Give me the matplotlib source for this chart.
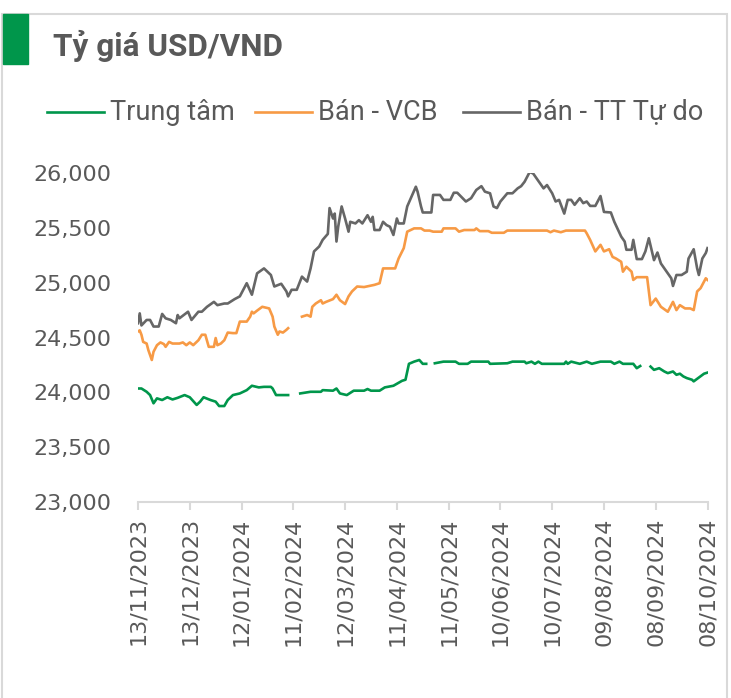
import numpy as np
import pandas as pd
import matplotlib
matplotlib.use("Agg")
import matplotlib.pyplot as plt
import matplotlib.dates as mdates
import matplotlib.patches as patches
from matplotlib.lines import Line2D
from matplotlib.ticker import FuncFormatter

plt.rcParams['font.family'] = ['DejaVu Sans']

# ── data: days since 13/11/2023 and rates (VND per USD) ──────────────────────
start = pd.Timestamp('2023-11-13')
nan = np.nan

tt_day = [0, 2, 5, 7, 9, 11, 14, 17, 20, 23, 27, 30, 34, 36, 38, 42, 45, 47, 50, 52,
          55, 59, 63, 66, 70, 73, 77, 78, 80, 87, 90, 94, 100, 106, 107, 113, 115, 117, 121, 125,
          131, 133, 135, 140, 143, 148, 153, 155, 157, 160, 163, 165, 167, 169, 172, 177, 184, 186, 191, 193,
          203, 204, 214, 217, 224, 225, 228, 230, 232, 234, 247, 248, 249, 251, 256, 260, 263, 268, 274, 276,
          279, 281, 287, 289, 291, 294, 297, 299, 302, 305, 307, 310, 312, 314, 316, 318, 321, 322, 325, 328, 330]
tt_val = [24035, 24035, 24005, 23975, 23900, 23945, 23930, 23955, 23935, 23950,
          23975, 23955, 23885, 23915, 23955, 23930, 23915, 23875, 23875, 23930,
          23975, 23990, 24020, 24060, 24045, 24050, 24050, 24035, 23975, 23975, nan,
          23990, 24005, 24005, 24020, 24015, 24035, 23990, 23975, 24015, 24015,
          24030, 24015, 24015, 24045, 24060, 24105, 24115, 24260, 24280, 24295,
          24260, 24260, nan,
          24265, 24280, 24280, 24260, 24260, 24280, 24280, 24260, 24265, 24280,
          24280, 24265, 24280, 24260, 24280, 24260, 24260, 24280, 24260, 24280,
          24260, 24280, 24260, 24280, 24280, 24260, 24280, 24260, 24260, 24220,
          24240, nan,
          24235, 24205, 24220, 24190, 24175, 24190, 24160, 24170, 24145, 24130,
          24115, 24100, 24135, 24170, 24180]

vcb_day = [0, 1, 2, 3, 5, 6, 8, 9, 11, 13, 15, 16, 18, 20, 24, 26, 28, 30, 32, 35,
           37, 39, 41, 44, 45, 46, 48, 50, 52, 55, 57, 59, 63, 65, 66, 67, 69, 72, 76, 78,
           79, 81, 82, 84, 86, 87, 91, 95, 98, 100, 101, 103, 106, 107, 109, 113, 115,
           117, 120, 122, 124, 127, 131, 137, 140, 142, 149, 151, 154, 156, 160, 164, 166, 169, 171, 176, 177,
           184, 186, 189, 195, 196, 198, 203, 205, 212, 214, 237, 239, 241, 245, 248, 259, 260, 262, 265, 268,
           270, 273, 275, 277, 280, 281, 283, 286, 287, 289, 295, 297, 300, 303, 307, 310, 312, 314, 317, 320,
           322, 324, 326, 329, 330]
vcb_val = [24555, 24565, 24525, 24460, 24445, 24385, 24295, 24370, 24430, 24455,
           24440, 24415, 24460, 24445, 24445, 24455, 24430, 24455, 24430, 24475,
           24525, 24525, 24415, 24415, 24495, 24430, 24445, 24475, 24545, 24540,
           24540, 24645, 24645, 24690, 24735, 24720, 24745, 24780, 24765, 24690,
           24600, 24525, 24555, 24545, 24570, 24585, nan,
           24690, 24705, 24690, 24780, 24810, 24840, 24810, 24825, 24850, 24890,
           24840, 24805, 24875, 24920, 24965, 24960, 24980, 24995, 25130, 25130,
           25220, 25315, 25465, 25495, 25495, 25475, 25475, 25465, 25465, 25495,
           25495, 25465, 25480, 25480, 25495, 25470, 25470, 25455, 25455, 25475,
           25475, 25460, 25475, 25460, 25475, 25475, 25450, 25390, 25285, 25345,
           25285, 25305, 25235, 25220, 25190, 25100, 25145, 25100, 25025, 25050,
           25050, 24795, 24855, 24780, 24735, 24825, 24750, 24795, 24765, 24765,
           24750, 24920, 24950, 25040, 25025]

free_day = [0, 1, 2, 5, 7, 9, 12, 14, 16, 19, 22, 23, 24, 29, 31, 35, 37, 40, 44, 46,
            50, 52, 56, 59, 63, 66, 69, 73, 77, 79, 83, 86, 87, 89, 92, 95, 98, 100, 102, 105,
            107, 110, 111, 113, 114, 115, 116, 118, 120, 122, 123, 126, 128, 130, 133, 135, 136, 137, 140, 142,
            144, 146, 148, 150, 151, 154, 156, 161, 162, 164, 165, 170, 171, 175, 177, 181, 183, 185, 190, 193,
            196, 199, 201, 204, 206, 208, 210, 214, 217, 219, 220, 222, 224, 227, 229, 231, 235, 237, 240, 242,
            244, 247, 249, 251, 253, 256, 258, 260, 262, 265, 268, 270, 274, 276, 280, 282, 283, 286, 287, 289,
            292, 294, 296, 299, 301, 303, 307, 309, 310, 312, 315, 318, 319, 322, 324, 325, 327, 329, 330]
free_val = [24630, 24720, 24610, 24660, 24660, 24600, 24600, 24715, 24675, 24660,
            24630, 24705, 24675, 24735, 24660, 24735, 24735, 24780, 24825, 24795,
            24810, 24810, 24850, 24875, 24995, 24890, 25085, 25130, 25070, 24965,
            24990, 24920, 24875, 24935, 24935, 25055, 25010, 25130, 25285, 25330,
            25390, 25445, 25680, 25585, 25630, 25375, 25510, 25695, 25585, 25465,
            25555, 25540, 25570, 25540, 25615, 25555, 25600, 25480, 25480, 25555,
            25525, 25510, 25435, 25585, 25540, 25540, 25695, 25875, 25830, 25695,
            25640, 25640, 25800, 25800, 25755, 25755, 25820, 25820, 25740, 25770,
            25845, 25880, 25830, 25815, 25695, 25680, 25740, 25815, 25815, 25845,
            25860, 25880, 25920, 26010, 25995, 25950, 25860, 25890, 25815, 25740,
            25755, 25630, 25755, 25755, 25710, 25770, 25725, 25740, 25700, 25700,
            25790, 25645, 25640, 25555, 25420, 25375, 25300, 25300, 25390, 25215,
            25215, 25285, 25405, 25205, 25275, 25175, 25085, 25040, 24970, 25070,
            25070, 25100, 25220, 25305, 25130, 25070, 25220, 25270, 25315]

series_names = ['Trung tâm', 'Bán - VCB', 'Bán - TT Tự do']
series_colors = ['#00964B', '#F79A45', '#666666']
tick_days = [0, 30, 60, 90, 120, 150, 180, 210, 240, 270, 300, 330]


def to_dates(days):
    return start + pd.to_timedelta(days, unit='D')


W, H = 731, 698
TXT = '#595959'
fig = plt.figure(figsize=(W / 100, H / 100), dpi=100)
ax = fig.add_axes([138 / W, 1 - 502 / H, (707.5 - 138) / W, (502 - 173) / H])

lines = []
for days, vals, name, col in zip([tt_day, vcb_day, free_day], [tt_val, vcb_val, free_val],
                                 series_names, series_colors):
    ln, = ax.plot(to_dates(days), vals, color=col, lw=1.9, label=name, solid_joinstyle='round')
    lines.append(ln)

ax.set_xlim(to_dates([0])[0], to_dates([330])[0])
ax.set_ylim(23000, 26000)
ax.set_yticks(np.arange(23000, 26001, 500))
ax.yaxis.set_major_formatter(FuncFormatter(lambda v, p: f'{v:,.0f}'))
ax.set_xticks(to_dates(tick_days))
ax.xaxis.set_major_formatter(mdates.DateFormatter('%d/%m/%Y'))

for s in ['top', 'right', 'left']:
    ax.spines[s].set_visible(False)
ax.spines['bottom'].set_color('#D9D9D9')
ax.spines['bottom'].set_linewidth(1.5)
ax.tick_params(axis='x', length=6, width=1.5, color='#D9D9D9', pad=5,
               labelrotation=90, labelsize=16, labelcolor=TXT)
ax.tick_params(axis='y', length=0, pad=19, labelsize=16, labelcolor=TXT)
ax.set_facecolor('none')

# Legende oben, Einträge an festen Positionen
leg_x = [47, 255, 463]
leg_y = 1 - 112 / H
for x0, ln in zip(leg_x, lines):
    fig.add_artist(Line2D([x0 / W, (x0 + 57) / W], [leg_y, leg_y], transform=fig.transFigure,
                          color=ln.get_color(), lw=1.9))
    fig.text((x0 + 63) / W, leg_y, ln.get_label(), fontsize=19.5, family=['Roboto', 'DejaVu Sans'],
             color=TXT, va='center', ha='left')

# Titel + grüner Balken + Rahmen
fig.text(53 / W, 1 - 56 / H, 'Tỷ giá USD/VND', fontsize=22.7, fontweight='bold',
         family=['Roboto', 'DejaVu Sans'], color=TXT, va='baseline', ha='left')
fig.patches.append(patches.Rectangle((3 / W, 1 - 64 / H), 25 / W, 50 / H,
                                     transform=fig.transFigure, color='#00964B', zorder=3))
fig.patches.append(patches.Rectangle((2 / W, -0.01), 725 / W, (H - 14) / H + 0.01, fill=False,
                                     transform=fig.transFigure, edgecolor='#D9D9D9', lw=1.5))

fig.savefig('out.png', dpi=100, facecolor='white')
